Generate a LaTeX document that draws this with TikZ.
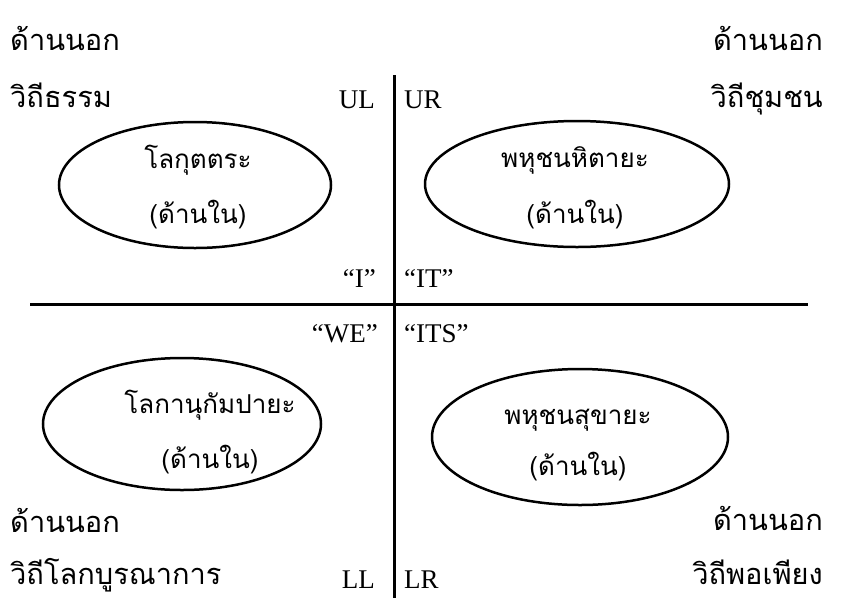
\documentclass[tikz,border=0pt]{standalone}
\usepackage{fontspec}
\setmainfont{Liberation Serif}
\newfontfamily\thaifont[Script=Thai]{Loma}
\tikzset{
  th/.style={font=\thaifont\fontsize{26}{30}\selectfont, inner sep=0pt},
  thc/.style={font=\thaifont\fontsize{29}{33}\selectfont, inner sep=0pt},
  lat/.style={font=\fontsize{27}{30}\selectfont, inner sep=0pt},
  axis/.style={line width=3pt},
  oval/.style={draw, line width=2.5pt}
}
\begin{document}
\begin{tikzpicture}[x=1pt,y=-1pt]
\useasboundingbox (0,0) rectangle (846,598);
% axes
\coordinate (vt) at (394,75);
\coordinate (vb) at (394,598);
\coordinate (hl) at (30,304);
\coordinate (hr) at (808,304);
\draw[axis] (vt) -- (vb);
\draw[axis] (hl) -- (hr);
% ellipses
\draw[oval] (195,185) ellipse [x radius=136, y radius=63];
\draw[oval] (577,184) ellipse [x radius=152, y radius=63];
\draw[oval] (182,424) ellipse [x radius=139, y radius=66];
\draw[oval] (580,437) ellipse [x radius=148, y radius=68];
% ellipse texts
\node[th] (t1) at (198,160) {โลกุตตระ};
\node[th] (t1b) at (198,215) {(ด้านใน)};
\node[th] (t2) at (575,160) {พหุชนหิตายะ};
\node[th] (t2b) at (575,215) {(ด้านใน)};
\node[th] (t3) at (210,405) {โลกานุกัมปายะ};
\node[th] (t3b) at (210,460) {(ด้านใน)};
\node[th] (t4) at (578,420) {พหุชนสุขายะ};
\node[th] (t4b) at (578,467) {(ด้านใน)};
% corner labels
\node[thc, anchor=base west] (a1) at (10,50) {ด้านนอก};
\node[thc, anchor=base west] (a2) at (10,107) {วิถีธรรม};
\node[thc, anchor=base east] (b1) at (823,50) {ด้านนอก};
\node[thc, anchor=base east] (b2) at (823,107) {วิถีชุมชน};
\node[thc, anchor=base west] (c1) at (10,532) {ด้านนอก};
\node[thc, anchor=base west] (c2) at (10,584) {วิถีโลกบูรณาการ};
\node[thc, anchor=base east] (d1) at (823,530) {ด้านนอก};
\node[thc, anchor=base east] (d2) at (823,584) {วิถีพอเพียง};
% quadrant labels
\node[lat, anchor=base east] (ul) at (375,108) {UL};
\node[lat, anchor=base west] (ur) at (404,108) {UR};
\node[lat, anchor=base east] (ll) at (375,588) {LL};
\node[lat, anchor=base west] (lr) at (404,588) {LR};
\node[lat, anchor=base east] (qi) at (376,287) {“I”};
\node[lat, anchor=base west] (qit) at (404,287) {“IT”};
\node[lat, anchor=base east] (qwe) at (378,342) {“WE”};
\node[lat, anchor=base west] (qits) at (404,342) {“ITS”};
\end{tikzpicture}
\end{document}
